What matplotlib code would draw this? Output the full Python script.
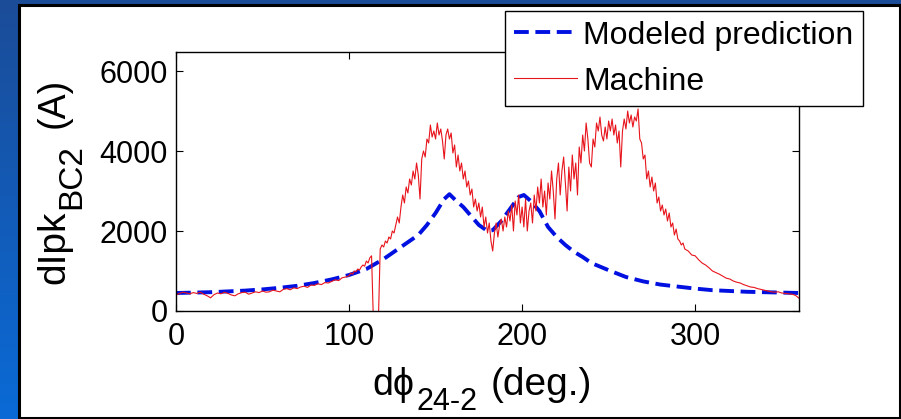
import numpy as np
import matplotlib
matplotlib.use('Agg')
import matplotlib.pyplot as plt
from matplotlib.patches import Rectangle
from matplotlib.colors import LinearSegmentedColormap
from matplotlib.transforms import IdentityTransform

plt.rcParams['font.family'] = ['Liberation Sans', 'DejaVu Sans']

# Modeled prediction (blue dashed)
model_x = [0, 10, 20, 30, 40, 50, 60, 70, 80, 90, 100, 110, 120, 130, 140, 145,
           150, 155, 158, 162, 166, 170, 175, 180, 183, 188, 193, 198, 201, 205,
           210, 215, 220, 225, 230, 235, 240, 250, 260, 270, 280, 290, 300, 310,
           320, 330, 340, 350, 360]
model_y = [450, 460, 470, 490, 510, 540, 580, 630, 700, 790, 900, 1050, 1300, 1600,
           1900, 2150, 2450, 2800, 2920, 2750, 2600, 2400, 2150, 2000, 2020, 2250,
           2550, 2850, 2900, 2750, 2500, 2100, 1850, 1650, 1480, 1350, 1200, 1020,
           850, 740, 660, 610, 560, 520, 500, 480, 470, 460, 450]

# Machine measurement (red)
machine_x = (list(range(0, 101, 2)) + list(range(101, 295)) + list(range(296, 361, 2)))
machine_y = [
    # 0 - 100, step 2
    400, 440, 470, 450, 430, 460, 440, 470, 420, 380, 330, 410, 450, 430, 470, 440,
    400, 380, 430, 460, 470, 420, 450, 480, 460, 500, 470, 480, 520, 500, 480, 540,
    560, 530, 580, 560, 600, 620, 590, 650, 640, 680, 660, 710, 700, 740, 780, 760,
    830, 850, 880,
    # 101 - 117
    950, 920, 1000, 980, 1050, 1020, 1100, 1150, 1120, 1250, 1200, 1330, 1380,
    -150, -150, -150, -150,
    # 118 - 294, step 1
    1550, 1650, 1600, 1750, 1700, 1850, 1800, 2000, 1950, 2150, 2350, 2200, 2600,
    2900, 2700, 3100, 2950, 3300, 3150, 3500, 3300, 3700, 3400, 2800, 3800, 4000,
    3850, 4300, 4200, 4650, 4350, 4500, 4300, 4700, 4400, 4550, 4250, 3800, 4400,
    4550, 4300, 4450, 3950, 4150, 3600, 3900, 3500, 3700, 3300, 3500, 3100, 3250,
    2900, 3050, 2600, 2800, 2500, 2700, 2350, 2600, 2100, 2350, 1950, 2200, 1750,
    1500, 1950, 2200, 1850, 2150, 2300, 2000, 2350, 2100, 2500, 2250, 2650, 2000,
    2750, 2400, 2900, 2200, 2600, 2100, 2800, 2000, 2500, 2700, 2200, 2900, 2500,
    3100, 2700, 3300, 2600, 3000, 2400, 3200, 2800, 3500, 3000, 2300, 3300, 3700,
    2900, 3500, 3850, 3200, 2500, 3600, 3000, 3900, 3300, 3700, 2900, 4100, 3700,
    4400, 4000, 4700, 4300, 3700, 3600, 4300, 4100, 4700, 4500, 4850, 4400, 4250,
    4600, 4300, 4750, 4500, 4800, 4400, 4650, 4200, 4500, 3600, 4500, 4800, 4550,
    5000, 4700, 4900, 4600, 4850, 4750, 5050, 4300, 4200, 3800, 3900, 3300, 3500,
    3100, 3350, 3000, 3200, 2700, 2850, 2500, 2650, 2400, 2550, 2250, 2450, 2100,
    2200, 1900, 2050, 1800, 1750, 1650, 1700, 1550,
    # 296 - 360, step 2
    1500, 1400, 1380, 1280, 1200, 1150, 1080, 1000, 960, 920, 870, 820, 800, 750,
    720, 700, 660, 630, 600, 590, 560, 540, 520, 500, 480, 470, 480, 450, 440, 430,
    420, 390, 320]

x_ticks = [0, 100, 200, 300]
y_ticks = [0, 2000, 4000, 6000]

W, H = 901, 419
fig = plt.figure(figsize=(W / 100, H / 100), dpi=100)

# slide background (blue gradient) and white panel
bg = fig.add_axes([0, 0, 1, 1], zorder=-10)
grad = np.linspace(0, 1, 256).reshape(-1, 1)
cmap = LinearSegmentedColormap.from_list('slide', ['#0a6ad6', '#1b4c98'])
bg.imshow(grad, aspect='auto', cmap=cmap, extent=[0, 1, 0, 1], origin='lower')
bg.axis('off')
fig.patches.append(Rectangle((18.5 / W, 1.5 / H), 881 / W, 412 / H,
                             transform=fig.transFigure, facecolor='white',
                             edgecolor='black', linewidth=2.2, zorder=-5))

ax = fig.add_axes([176 / W, 1 - 311 / H, 623 / W, 259 / H])
ax.plot(model_x, model_y, color='#0010e0', linewidth=2.8, dashes=(3.8, 1.7),
        label='Modeled prediction')
ax.plot(machine_x, machine_y, color='#e8141c', linewidth=0.8, label='Machine')

ax.set_xlim(0, 360)
ax.set_ylim(0, 6475)
ax.set_xticks(x_ticks)
ax.set_yticks(y_ticks)
ax.tick_params(direction='in', length=5, width=0.8, top=True, right=True,
               labelsize=22)
ax.tick_params(axis='x', pad=8)
ax.tick_params(axis='y', pad=6)
for s in ax.spines.values():
    s.set_linewidth(1.0)

leg = ax.legend(loc='upper right', bbox_to_anchor=(863 / W, 1 - 11 / H),
                bbox_transform=fig.transFigure, borderaxespad=0, fontsize=23,
                fancybox=False, framealpha=1, edgecolor='black',
                handlelength=1.95, handletextpad=0.2, labelspacing=0.5,
                borderpad=0.3)
leg.get_frame().set_linewidth(1.0)

# axis labels built from pieces so the subscripts keep their large size
renderer = fig.canvas.get_renderer()


def text_width(s, size):
    t = fig.text(0, 0, s, fontsize=size)
    w = t.get_window_extent(renderer).width
    t.remove()
    return w


def piece_label(pieces, start, along, rotation):
    # pieces: (text, fontsize, baseline offset in px, gap before in px)
    pos = start
    for s, size, drop, gap in pieces:
        pos += gap
        if rotation == 0:
            xy = (pos, along - drop)
        else:
            xy = (along + drop, pos)
        fig.text(xy[0], xy[1], s, fontsize=size, rotation=rotation,
                 rotation_mode='anchor', ha='left', va='baseline',
                 transform=IdentityTransform())
        pos += text_width(s, size)


# x label: d phi_24-2 (deg.)  -> baseline at 395 px from top
piece_label([('dϕ', 27, 0, 0), ('24-2', 22, 15, 3), ('(deg.)', 28, 0, 13)],
            start=372, along=H - 395, rotation=0)
# y label: dIpk_BC2 (A)  -> baseline at x = 63 px, starting at 283 px from top
piece_label([('dIpk', 28, 0, 0), ('BC2', 24, 16, 2), ('(A)', 27, 0, 16)],
            start=H - 284, along=64, rotation=90)

fig.savefig('out.png', dpi=100)
